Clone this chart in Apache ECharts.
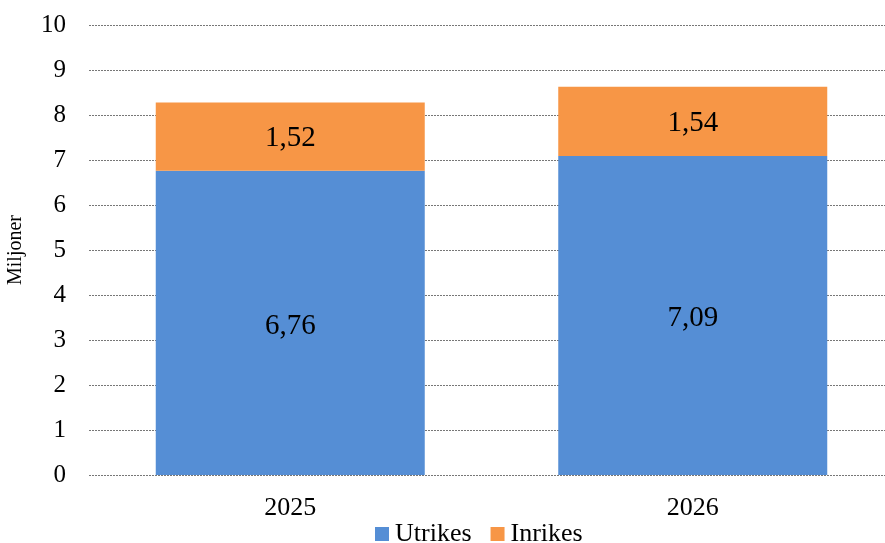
<!DOCTYPE html>
<html><head><meta charset="utf-8">
<script src="https://cdn.jsdelivr.net/npm/echarts@6/dist/echarts.min.js"></script>
<style>html,body{margin:0;padding:0;background:#fff;overflow:hidden}#c{width:885px;height:543px}</style>
</head><body><div id="c"></div>
<script>
const categories = ['2025', '2026'];
const utrikes = [6.76, 7.09];
const inrikes = [1.52, 1.54];
const yTicks = [0, 1, 2, 3, 4, 5, 6, 7, 8, 9, 10];

const font = '"Liberation Serif", "Times New Roman", serif';
const fmt = p => p.value.toFixed(2).replace('.', ',');
const chart = echarts.init(document.getElementById('c'));
chart.setOption({
  animation: false,
  textStyle: { fontFamily: font },
  grid: { left: 89, right: -9, top: 25, bottom: 68, containLabel: false, outerBoundsMode: 'none' },
  legend: {
    top: 516, left: 370, itemWidth: 14, itemHeight: 14, itemGap: 19,
    icon: 'rect',
    textStyle: { fontFamily: font, fontSize: 26, color: '#000', padding: [0, 0, 0, 1] },
    data: ['Utrikes', 'Inrikes']
  },
  xAxis: {
    type: 'category', data: categories,
    axisLine: { show: false }, axisTick: { show: false },
    axisLabel: { fontFamily: font, fontSize: 26, color: '#000', margin: 20 }
  },
  yAxis: {
    type: 'value', min: yTicks[0], max: yTicks[yTicks.length - 1], interval: 1,
    name: 'Miljoner', nameLocation: 'middle', nameGap: 63, nameRotate: 90,
    nameTextStyle: { fontFamily: font, fontSize: 20, color: '#000' },
    axisLabel: { fontFamily: font, fontSize: 25, color: '#000', margin: 23 },
    splitLine: { lineStyle: { color: '#777', type: [2, 1], width: 1 } }
  },
  series: [
    { name: 'Utrikes', type: 'bar', stack: 's', data: utrikes, barWidth: 269,
      itemStyle: { color: '#558ED5' },
      label: { show: true, position: 'inside', offset: [0, 3], formatter: fmt, fontFamily: font, fontSize: 29, color: '#000' } },
    { name: 'Inrikes', type: 'bar', stack: 's', data: inrikes, barWidth: 269,
      itemStyle: { color: '#F79646' },
      label: { show: true, position: 'inside', offset: [0, 2], formatter: fmt, fontFamily: font, fontSize: 29, color: '#000' } }
  ]
});
</script></body></html>
